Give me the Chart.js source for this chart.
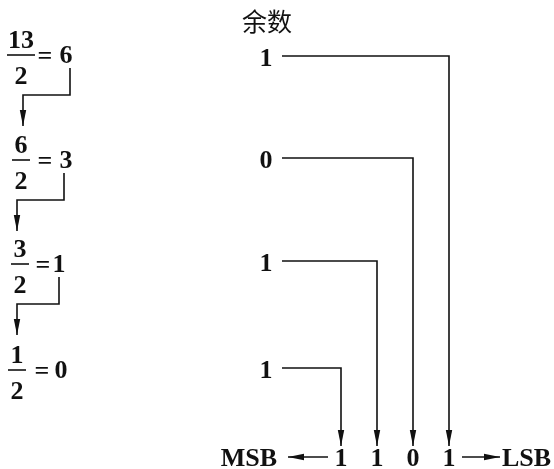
<!DOCTYPE html>
<html>
<head>
<meta charset="utf-8">
<script src="https://cdn.jsdelivr.net/npm/chart.js@4"></script>
<style>
  html, body { margin: 0; padding: 0; background: #fff; }
  #wrap { width: 554px; height: 469px; }
</style>
</head>
<body>
<div id="wrap"><canvas id="c" width="554" height="469"></canvas></div>
<script>
// ---- data ----
const dividends = [13, 6, 3, 1];
const divisor = 2;
const quotients = [6, 3, 1, 0];
const remainders = [1, 0, 1, 1];
const remainderTitle = '余数';
const msbLabel = 'MSB';
const lsbLabel = 'LSB';

// ---- layout (diagram geometry, in a 554 x 469 coordinate space) ----
const barY = [55, 160, 264, 370];
const fracCX = [21, 21, 20, 17];
const eqCX = [45, 45, 43, 42];
const quotCX = [66, 66, 59, 61];
const connX = [70, 64, 59];
const connArrowX = [23, 17, 17];
const remY = [56, 158, 261, 368];
const remCX = 266;
const remLineStart = 282;
const colX = [449, 413, 377, 341];   // column for remainder i (LSB first)
const bottomY = 457;
const tipY = 446;

const INK = '#111';
const SERIF = '"Liberation Serif", "Times New Roman", serif';
const FS = 26;

// ---- build line datasets ----
const lines = [];
function seg(points, arrow) {
  lines.push({
    data: points.map(p => ({ x: p[0], y: p[1] })),
    showLine: true, borderColor: INK, borderWidth: 1.6,
    pointRadius: 0, fill: false, tension: 0, arrow: !!arrow
  });
}
dividends.forEach((d, i) => {
  const w = String(d).length > 1 ? 14 : 9;
  seg([[fracCX[i] - w, barY[i]], [fracCX[i] + w, barY[i]]], false);
});
for (let i = 0; i < quotients.length - 1; i++) {
  const b = barY[i];
  seg([[connX[i], b + 13], [connX[i], b + 40], [connArrowX[i], b + 40], [connArrowX[i], b + 71]], true);
}
remainders.forEach((r, i) => {
  seg([[remLineStart, remY[i]], [colX[i], remY[i]], [colX[i], tipY]], true);
});
seg([[328, bottomY], [288, bottomY]], true);
seg([[462, bottomY], [500, bottomY]], true);

// ---- text labels ----
const labels = [];
function txt(t, x, y, align, font) { labels.push({ t: String(t), x, y, align: align || 'center', font: font || ('bold ' + FS + 'px ' + SERIF) }); }
dividends.forEach((d, i) => {
  txt(d, fracCX[i], barY[i] - 16);
  txt(divisor, fracCX[i], barY[i] + 20);
  txt('=', eqCX[i], barY[i]);
  txt(quotients[i], quotCX[i], barY[i] - 1);
});
txt(remainderTitle, 242, 21, 'left', '25px "Noto Sans CJK SC", sans-serif');
remainders.forEach((r, i) => txt(r, remCX, remY[i] + 1));
const bits = remainders.slice().reverse();
bits.forEach((b, j) => txt(b, colX[remainders.length - 1 - j], bottomY));
txt(msbLabel, 277, bottomY, 'right');
txt(lsbLabel, 502, bottomY, 'left');

const drawPlugin = {
  id: 'diagram',
  afterDatasetsDraw(chart) {
    const ctx = chart.ctx, xs = chart.scales.x, ys = chart.scales.y;
    ctx.save();
    ctx.fillStyle = INK;
    chart.data.datasets.forEach(ds => {
      if (!ds.arrow) return;
      const n = ds.data.length;
      const a = ds.data[n - 2], b = ds.data[n - 1];
      const x1 = xs.getPixelForValue(a.x), y1 = ys.getPixelForValue(a.y);
      const x2 = xs.getPixelForValue(b.x), y2 = ys.getPixelForValue(b.y);
      const ang = Math.atan2(y2 - y1, x2 - x1);
      const len = 16, hw = 3.2;
      ctx.beginPath();
      ctx.moveTo(x2, y2);
      ctx.lineTo(x2 - len * Math.cos(ang) + hw * Math.sin(ang), y2 - len * Math.sin(ang) - hw * Math.cos(ang));
      ctx.lineTo(x2 - len * Math.cos(ang) - hw * Math.sin(ang), y2 - len * Math.sin(ang) + hw * Math.cos(ang));
      ctx.closePath();
      ctx.fill();
    });
    labels.forEach(l => {
      ctx.font = l.font;
      ctx.textAlign = l.align;
      const cjk = /[\u4e00-\u9fff]/.test(l.t);
      ctx.textBaseline = cjk ? 'middle' : 'alphabetic';
      const px = xs.getPixelForValue(l.x);
      const py = ys.getPixelForValue(l.y) + (cjk ? 0 : 0.338 * FS);
      ctx.fillText(l.t, px, py);
    });
    ctx.restore();
  }
};

new Chart(document.getElementById('c'), {
  type: 'scatter',
  data: { datasets: lines },
  options: {
    responsive: false,
    animation: false,
    events: [],
    layout: { padding: 0 },
    plugins: { legend: { display: false }, tooltip: { enabled: false } },
    scales: {
      x: { type: 'linear', min: 0, max: 554, display: false },
      y: { type: 'linear', min: 0, max: 469, reverse: true, display: false }
    }
  },
  plugins: [drawPlugin]
});
</script>
</body>
</html>
